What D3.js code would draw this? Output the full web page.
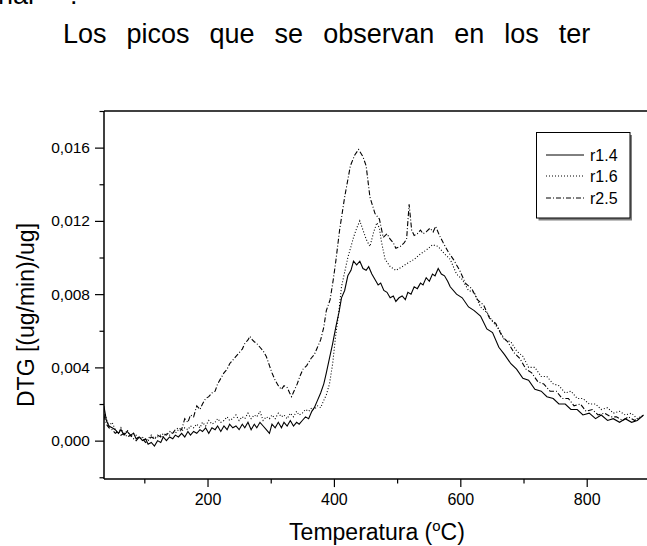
<!DOCTYPE html>
<html><head><meta charset="utf-8">
<script src="https://cdn.jsdelivr.net/npm/d3@7"></script>
<style>html,body{margin:0;padding:0;background:#fff;overflow:hidden}svg{display:block}text{font-family:Arial,"Liberation Sans",sans-serif;fill:#000}</style>
</head><body>
<script>
// Temperature (°C) and DTG [(ug/min)/ug] values
const r14T = [36,40,44,49,54,59,63,68,73,78,83,87,92,97,102,106,111,116,121,126,130,135,140,145,149,154,159,164,169,173,178,183,188,192,197,202,207,212,216,221,226,231,235,240,245,250,255,259,264,269,274,278,283,288,293,298,302,307,312,317,321,326,331,336,341,345,350,355,360,365,369,374,379,384,388,393,398,403,408,412,417,422,427,431,436,441,446,451,455,460,465,470,474,479,484,489,494,498,503,508,513,517,522,527,532,537,541,546,551,556,560,565,570,575,580,584,594,603,613,622,632,642,651,661,670,680,689,699,708,718,728,737,747,756,766,775,785,794,804,814,823,833,842,852,861,871,880,890];
const r14V = [0.0019,0.0011,0.0008,0.0007,0.0006,0.0004,0.0006,0.0003,0.0005,0.0003,0.0004,0.0001,0.0002,0.0000,0.0001,-0.0002,-0.0001,-0.0003,0.0000,-0.0001,0.0002,0.0000,0.0002,0.0001,0.0003,0.0002,0.0004,0.0002,0.0005,0.0003,0.0005,0.0004,0.0006,0.0005,0.0007,0.0004,0.0007,0.0006,0.0008,0.0005,0.0008,0.0006,0.0009,0.0007,0.0008,0.0006,0.0009,0.0007,0.0010,0.0006,0.0009,0.0007,0.0010,0.0008,0.0006,0.0004,0.0009,0.0007,0.0010,0.0007,0.0010,0.0008,0.0011,0.0008,0.0010,0.0009,0.0011,0.0013,0.0012,0.0016,0.0018,0.0022,0.0026,0.0031,0.0037,0.0045,0.0053,0.0062,0.0070,0.0078,0.0082,0.0090,0.0093,0.0098,0.0096,0.0098,0.0094,0.0093,0.0095,0.0091,0.0088,0.0085,0.0086,0.0082,0.0081,0.0078,0.0079,0.0076,0.0078,0.0079,0.0077,0.0081,0.0080,0.0084,0.0083,0.0086,0.0085,0.0089,0.0087,0.0091,0.0090,0.0094,0.0091,0.0090,0.0087,0.0084,0.0080,0.0078,0.0073,0.0071,0.0068,0.0061,0.0059,0.0051,0.0047,0.0042,0.0039,0.0034,0.0033,0.0028,0.0027,0.0024,0.0023,0.0020,0.0020,0.0017,0.0017,0.0014,0.0015,0.0012,0.0014,0.0011,0.0012,0.0010,0.0012,0.0010,0.0011,0.0014];

const r16T = [36,40,44,49,54,59,63,68,73,78,83,87,92,97,102,106,111,116,121,126,130,135,140,145,149,154,159,164,169,173,178,183,188,192,197,202,207,212,216,221,226,231,235,240,245,250,255,259,264,269,274,278,283,288,293,298,302,307,312,317,321,326,331,336,341,345,350,355,360,365,369,374,379,384,388,393,398,403,408,412,417,422,427,431,436,441,446,451,457,463,468,472,475,481,489,498,508,517,527,537,546,556,565,575,584,594,603,613,622,632,642,651,661,670,680,689,699,708,718,728,737,747,756,766,775,785,794,804,814,823,833,842,852,861,871,880,890];
const r16V = [0.0016,0.0012,0.0008,0.0010,0.0006,0.0004,0.0007,0.0003,0.0006,0.0002,0.0004,0.0003,0.0001,0.0002,0.0000,0.0001,0.0003,0.0001,0.0002,0.0003,0.0002,0.0004,0.0003,0.0005,0.0004,0.0006,0.0005,0.0007,0.0006,0.0008,0.0007,0.0009,0.0007,0.0010,0.0008,0.0011,0.0009,0.0010,0.0012,0.0010,0.0011,0.0013,0.0011,0.0012,0.0014,0.0011,0.0013,0.0012,0.0015,0.0012,0.0014,0.0013,0.0016,0.0011,0.0013,0.0012,0.0014,0.0012,0.0015,0.0013,0.0014,0.0012,0.0015,0.0013,0.0016,0.0014,0.0015,0.0017,0.0016,0.0018,0.0017,0.0019,0.0018,0.0022,0.0025,0.0031,0.0042,0.0058,0.0071,0.0084,0.0092,0.0100,0.0106,0.0111,0.0116,0.0120,0.0115,0.0110,0.0106,0.0114,0.0119,0.0116,0.0109,0.0099,0.0095,0.0093,0.0095,0.0097,0.0099,0.0102,0.0104,0.0107,0.0106,0.0102,0.0099,0.0091,0.0088,0.0082,0.0081,0.0073,0.0070,0.0065,0.0061,0.0055,0.0054,0.0049,0.0046,0.0040,0.0040,0.0035,0.0035,0.0031,0.0030,0.0026,0.0027,0.0023,0.0023,0.0020,0.0020,0.0017,0.0018,0.0015,0.0016,0.0014,0.0015,0.0012,0.0014];

const r25T = [36,40,44,49,54,59,63,68,73,78,83,87,92,97,102,106,111,116,121,126,130,135,140,145,149,154,159,164,169,173,178,183,188,192,197,202,207,212,216,221,226,231,235,240,245,250,255,259,264,267,271,274,278,283,288,293,298,302,307,312,317,321,326,330,333,338,342,346,351,357,364,369,374,379,384,388,394,399,403,409,417,426,433,439,446,451,457,465,472,478,484,489,494,498,505,511,515,519,523,527,532,537,541,546,552,557,561,567,573,581,589,599,608,618,627,637,646,656,666,675,685,694,704,713,723,732,742,752,761,771,780,790,799,809,818,828,838,847,857,866,876,885,890];
const r25V = [0.0014,0.0009,0.0007,0.0006,0.0004,0.0005,0.0003,0.0004,0.0002,0.0003,0.0001,0.0000,0.0002,0.0001,-0.0001,0.0000,0.0002,0.0001,0.0003,0.0002,0.0004,0.0003,0.0005,0.0004,0.0006,0.0007,0.0006,0.0012,0.0010,0.0014,0.0013,0.0019,0.0017,0.0020,0.0023,0.0024,0.0026,0.0027,0.0031,0.0034,0.0037,0.0039,0.0042,0.0044,0.0046,0.0048,0.0050,0.0053,0.0055,0.0057,0.0055,0.0054,0.0053,0.0051,0.0049,0.0046,0.0041,0.0037,0.0033,0.0030,0.0028,0.0030,0.0029,0.0026,0.0024,0.0028,0.0031,0.0035,0.0039,0.0041,0.0045,0.0047,0.0051,0.0055,0.0062,0.0071,0.0077,0.0088,0.0098,0.0115,0.0133,0.0150,0.0156,0.0159,0.0155,0.0150,0.0133,0.0124,0.0121,0.0111,0.0113,0.0110,0.0108,0.0105,0.0106,0.0108,0.0110,0.0129,0.0115,0.0112,0.0113,0.0115,0.0113,0.0114,0.0116,0.0114,0.0117,0.0112,0.0108,0.0103,0.0099,0.0093,0.0086,0.0083,0.0077,0.0074,0.0067,0.0064,0.0057,0.0054,0.0048,0.0045,0.0039,0.0037,0.0032,0.0031,0.0027,0.0027,0.0023,0.0023,0.0019,0.0020,0.0016,0.0017,0.0014,0.0015,0.0013,0.0013,0.0011,0.0013,0.0011,0.0013];

const seriesNames = ["r1.4","r1.6","r2.5"];
const xMajorTicks = [200,400,600,800];
const xMinorTicks = [100,300,500,700];
const yMajorTicks = [0,0.004,0.008,0.012,0.016];
const yMinorTicks = [-0.002,0.002,0.006,0.010,0.014,0.018];
const yTickLabels = ["0,000","0,004","0,008","0,012","0,016"];

const W = 647, H = 546;
const svg = d3.select("body").append("svg").attr("width", W).attr("height", H);

// body text above the figure (page text around the chart)
svg.append("text").attr("x", -2).attr("y", 4).attr("font-size", 27).text("nal");
svg.append("text").attr("x", 70).attr("y", 4).attr("font-size", 27).text(":");
svg.append("text").attr("x", 63).attr("y", 43).attr("font-size", 27).attr("word-spacing", "12.5px")
  .text("Los picos que se observan en los ter");

const L = 104, T = 111, B = 479.1;
const x = d3.scaleLinear().domain([36.2, 895.4]).range([L, W]);
const y = d3.scaleLinear().domain([-0.0021, 0.018]).range([B, T]);

const dash = ["none", "1,2", "5,2,1,2"];
const data = [d3.zip(r14T, r14V), d3.zip(r16T, r16V), d3.zip(r25T, r25V)];
const line = d3.line().x(d => x(d[0])).y(d => y(d[1]));
svg.append("clipPath").attr("id", "c").append("rect").attr("x", L).attr("y", T).attr("width", W - L).attr("height", B - T);
const g = svg.append("g").attr("clip-path", "url(#c)");
data.forEach((d, i) => {
  g.append("path").attr("d", line(d)).attr("fill", "none").attr("stroke", "#000")
    .attr("stroke-width", 1.1).attr("stroke-dasharray", dash[i]);
});

// frame
const fr = svg.append("g").attr("stroke", "#000").attr("stroke-width", 1.5);
fr.append("line").attr("x1", L).attr("x2", W).attr("y1", T).attr("y2", T);
fr.append("line").attr("x1", L).attr("x2", W).attr("y1", B).attr("y2", B);
fr.append("line").attr("x1", L).attr("x2", L).attr("y1", T).attr("y2", B);

// axes
const font = "Arial, 'Liberation Sans', sans-serif";
const gx = svg.append("g").attr("transform", `translate(0,${B})`)
  .call(d3.axisBottom(x).tickValues(xMajorTicks).tickSize(8).tickPadding(7).tickFormat(d3.format("d")));
gx.select(".domain").remove();
gx.selectAll("text").attr("font-size", 16).attr("font-family", font);
const gxm = svg.append("g").attr("transform", `translate(0,${B})`)
  .call(d3.axisBottom(x).tickValues(xMinorTicks).tickSize(4.5).tickFormat(""));
gxm.select(".domain").remove();

const gy = svg.append("g").attr("transform", `translate(${L},0)`)
  .call(d3.axisLeft(y).tickValues(yMajorTicks).tickSize(9).tickPadding(5).tickFormat((d, i) => yTickLabels[i]));
gy.select(".domain").remove();
gy.selectAll("text").attr("font-size", 15.5).attr("font-family", font);
const gym = svg.append("g").attr("transform", `translate(${L},0)`)
  .call(d3.axisLeft(y).tickValues(yMinorTicks).tickSize(4.5).tickFormat(""));
gym.select(".domain").remove();
svg.selectAll(".tick line").attr("stroke", "#000").attr("stroke-width", 1.2);

// titles
const xt = svg.append("text").attr("x", 377).attr("y", 540).attr("text-anchor", "middle").attr("font-size", 23);
xt.append("tspan").text("Temperatura (");
xt.append("tspan").attr("font-size", 15).attr("dy", -9).text("o");
xt.append("tspan").attr("dy", 9).text("C)");
svg.append("text").attr("transform", "translate(34,315) rotate(-90)").attr("text-anchor", "middle").attr("font-size", 23)
  .text("DTG [(ug/min)/ug]");

// legend
const lg = svg.append("g");
lg.append("rect").attr("x", 538.5).attr("y", 135).attr("width", 93.5).attr("height", 85.5).attr("fill", "#808080");
lg.append("rect").attr("x", 536.5).attr("y", 132.5).attr("width", 93.5).attr("height", 85.5).attr("fill", "#fff").attr("stroke", "#000").attr("stroke-width", 1);
const legY = [155, 176, 198];
seriesNames.forEach((n, i) => {
  lg.append("line").attr("x1", 546).attr("x2", 584).attr("y1", legY[i]).attr("y2", legY[i])
    .attr("stroke", "#000").attr("stroke-width", 1).attr("stroke-dasharray", dash[i]);
  lg.append("text").attr("x", 590).attr("y", legY[i] + 5.7).attr("font-size", 16).text(n);
});
</script>
</body></html>
